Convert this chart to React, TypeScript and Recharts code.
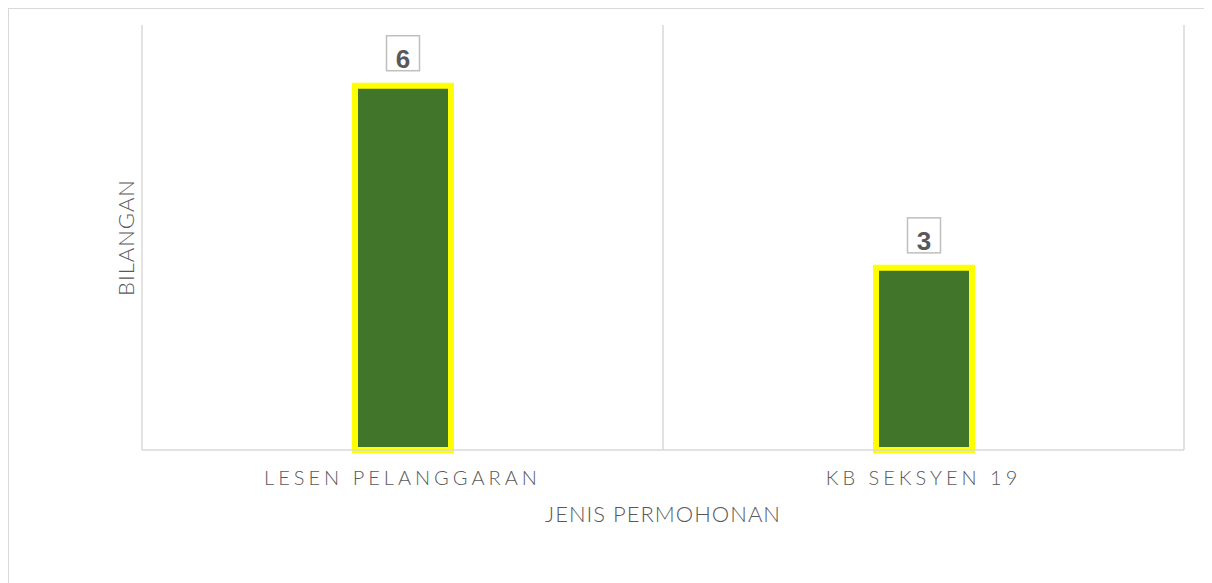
import React from "react";
import {
  BarChart,
  Bar,
  XAxis,
  YAxis,
  CartesianGrid,
  LabelList,
  Label,
} from "recharts";

const categories = ["LESEN PELANGGARAN", "KB SEKSYEN 19"];
const counts = [6, 3];
const xTitle = "JENIS PERMOHONAN";
const yTitle = "BILANGAN";

const data = categories.map((name, i) => ({ name, count: counts[i] }));

const FONT = "Lato, 'Open Sans', sans-serif";
const TEXT = "#595959";
const GRID = "#d9d9d9";

function ValueBox(props: any) {
  const { x, y, width, value } = props;
  const cx = x + width / 2;
  const boxW = 33;
  const boxH = 35;
  const boxBottom = y - 15;
  return (
    <g>
      <rect
        x={cx - boxW / 2}
        y={boxBottom - boxH}
        width={boxW}
        height={boxH}
        fill="#fff"
        stroke="#bfbfbf"
        strokeWidth={1.5}
      />
      <text
        x={cx}
        y={y - 18}
        textAnchor="middle"
        fontFamily="'Liberation Sans', Arial, sans-serif"
        fontWeight={700}
        fontSize={26}
        fill={TEXT}
      >
        {value}
      </text>
    </g>
  );
}

function YTitle(props: any) {
  const { viewBox } = props;
  const cx = viewBox.x + viewBox.width - 17;
  const cy = viewBox.y + viewBox.height / 2;
  return (
    <text
      x={cx}
      y={cy}
      transform={`rotate(-90 ${cx} ${cy})`}
      textAnchor="middle"
      dominantBaseline="central"
      fontFamily={FONT}
      fontWeight={300}
      fontSize={22}
      letterSpacing={1}
      fill={TEXT}
    >
      {yTitle}
    </text>
  );
}

export default function App() {
  return (
    <div
      style={{
        width: 1202,
        height: 574,
        border: `1px solid ${GRID}`,
        borderBottom: "none",
        background: "#fff",
      }}
    >
      <BarChart
        width={1202}
        height={574}
        data={data}
        margin={{ top: 16, right: 27, left: 0, bottom: 33 }}
      >
        <CartesianGrid
          horizontal={false}
          stroke={GRID}
          strokeWidth={1.5}
          verticalCoordinatesGenerator={({ offset }: any) => [
            offset.left,
            offset.left + offset.width / 2,
            offset.left + offset.width,
          ]}
        />
        <XAxis
          dataKey="name"
          height={100}
          axisLine={{ stroke: GRID, strokeWidth: 1.5 }}
          tickLine={false}
          tickSize={0}
          tickMargin={21}
          tick={{
            fill: TEXT,
            fontSize: 20,
            fontFamily: FONT,
            fontWeight: 300,
            letterSpacing: 4,
          }}
        >
          <Label
            value={xTitle}
            position="insideBottom"
            offset={28}
            fill={TEXT}
            fontSize={22}
            fontWeight={300}
            letterSpacing={1}
            fontFamily={FONT}
          />
        </XAxis>
        <YAxis
          width={133}
          domain={[0, 7]}
          tick={false}
          axisLine={false}
          tickLine={false}
        >
          <Label content={<YTitle />} />
        </YAxis>
        <Bar
          dataKey="count"
          fill="#40752a"
          stroke="#ffff00"
          strokeWidth={6}
          barSize={96}
          isAnimationActive={false}
        >
          <LabelList dataKey="count" content={<ValueBox />} />
        </Bar>
      </BarChart>
    </div>
  );
}
